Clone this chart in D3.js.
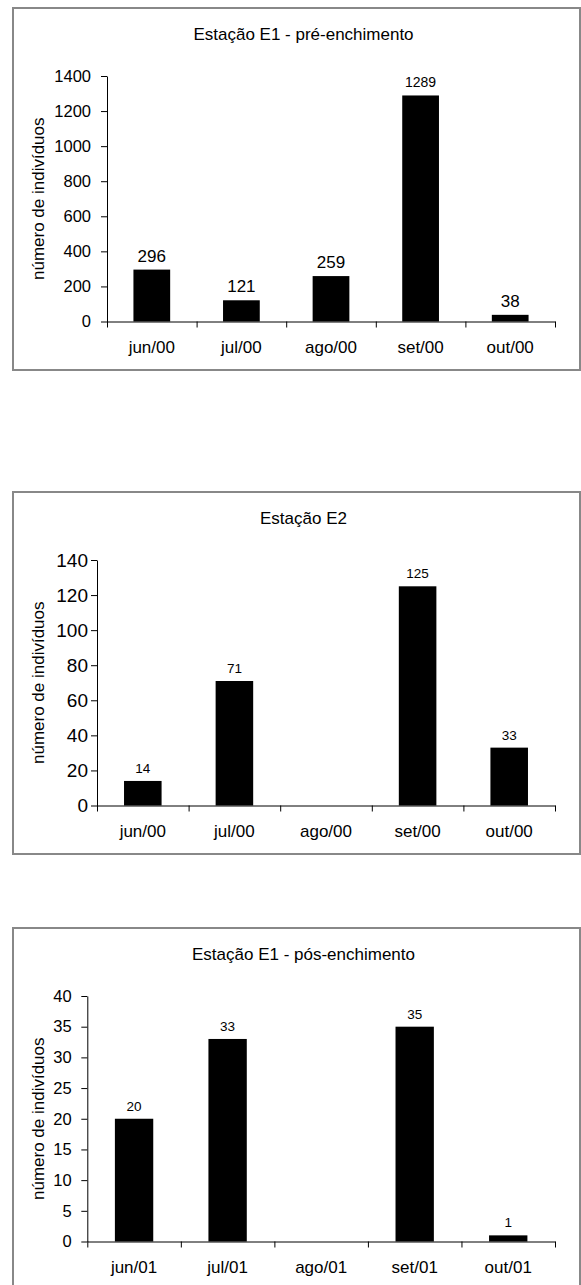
<!DOCTYPE html>
<html>
<head>
<meta charset="utf-8">
<script src="https://cdn.jsdelivr.net/npm/d3@7"></script>
<style>
  body { margin: 0; background: #fff; }
  svg { display: block; }
  text { font-family: "Liberation Sans", Arial, sans-serif; fill: #000; }
</style>
</head>
<body>
<svg width="581" height="1285"></svg>
<script>
// Data
var monthsA = ["jun/00", "jul/00", "ago/00", "set/00", "out/00"];
var monthsB = ["jun/01", "jul/01", "ago/01", "set/01", "out/01"];

var e1PreValues = [296, 121, 259, 1289, 38];
var e2Values = [14, 71, null, 125, 33];     // no sample in ago/00
var e1PosValues = [20, 33, null, 35, 1];    // no sample in ago/01

var e1PreTicks = [0, 200, 400, 600, 800, 1000, 1200, 1400];
var e2Ticks = [0, 20, 40, 60, 80, 100, 120, 140];
var e1PosTicks = [0, 5, 10, 15, 20, 25, 30, 35, 40];

var titles = ["Estação E1 - pré-enchimento", "Estação E2", "Estação E1 - pós-enchimento"];
var yTitle = "número de indivíduos";

// Layout of each panel
var panels = [
    { title: titles[0], cats: monthsA, values: e1PreValues, ticks: e1PreTicks,
      top: 8, axisX: 107, tickFont: 16.5, tickPad: 10,
      labelSize: function(v) { return v >= 1000 ? 14 : 17; } },
    { title: titles[1], cats: monthsA, values: e2Values, ticks: e2Ticks,
      top: 492, axisX: 97, tickFont: 19, tickPad: 3,
      labelSize: function() { return 13.5; } },
    { title: titles[2], cats: monthsB, values: e1PosValues, ticks: e1PosTicks,
      top: 928, axisX: 87.3, tickFont: 16.5, tickPad: 9.6,
      labelSize: function() { return 13.5; } }
];

var svg = d3.select("svg");
var frameLeft = 13, frameRight = 580, frameHeight = 362;
var plotRight = 555;

panels.forEach(drawPanel);

function drawPanel(p) {
    var g = svg.append("g");
    var yTop = p.top + 68, yBottom = p.top + 313.5;

    // grey outer frame
    g.append("rect")
     .attr("x", frameLeft).attr("y", p.top)
     .attr("width", frameRight - frameLeft).attr("height", frameHeight)
     .attr("fill", "none").attr("stroke", "#888").attr("stroke-width", 2);

    g.append("text")
     .attr("x", 303.5).attr("y", p.top + 32)
     .attr("text-anchor", "middle")
     .style("font-size", "17px")
     .text(p.title);

    var x = d3.scaleBand()
              .domain(p.cats)
              .range([p.axisX, plotRight])
              .paddingInner(0.59)
              .paddingOuter(0.295);

    var y = d3.scaleLinear()
              .domain([0, d3.max(p.ticks)])
              .range([yBottom, yTop]);

    var bars = p.cats.map(function(c, i) { return { cat: c, v: p.values[i] }; })
                     .filter(function(d) { return d.v != null; });

    // bars
    g.selectAll("rect.bar")
     .data(bars)
     .enter()
     .append("rect")
     .attr("class", "bar")
     .attr("x", function(d) { return x(d.cat); })
     .attr("y", function(d) { return y(d.v); })
     .attr("width", x.bandwidth())
     .attr("height", function(d) { return y(0) - y(d.v); })
     .attr("fill", "#000");

    // value labels
    g.selectAll("text.val")
     .data(bars)
     .enter()
     .append("text")
     .attr("class", "val")
     .attr("x", function(d) { return x(d.cat) + x.bandwidth() / 2; })
     .attr("y", function(d) { return y(d.v) - 8; })
     .attr("text-anchor", "middle")
     .style("font-size", function(d) { return p.labelSize(d.v) + "px"; })
     .text(function(d) { return d.v; });

    // y axis
    var yAxis = g.append("g")
                 .attr("transform", "translate(" + p.axisX + ",0)")
                 .call(d3.axisLeft(y).tickValues(p.ticks).tickSize(6)
                         .tickSizeOuter(0).tickPadding(p.tickPad)
                         .tickFormat(d3.format("d")));
    yAxis.selectAll("text").style("font-size", p.tickFont + "px");

    // x axis: ticks at category boundaries
    var xEdge = d3.scaleLinear().domain([0, p.cats.length]).range([p.axisX, plotRight]);
    g.append("g")
     .attr("transform", "translate(0," + yBottom + ")")
     .call(d3.axisBottom(xEdge).tickValues(d3.range(p.cats.length + 1))
             .tickSize(6).tickSizeOuter(0).tickFormat(""));

    g.selectAll("text.cat")
     .data(p.cats)
     .enter()
     .append("text")
     .attr("class", "cat")
     .attr("x", function(d) { return x(d) + x.bandwidth() / 2; })
     .attr("y", yBottom + 31)
     .attr("text-anchor", "middle")
     .style("font-size", "17px")
     .text(function(d) { return d; });

    g.append("text")
     .attr("transform", "translate(38," + ((yTop + yBottom) / 2) + ") rotate(-90)")
     .attr("text-anchor", "middle")
     .attr("dy", "0.35em")
     .style("font-size", "17px")
     .text(yTitle);
}
</script>
</body>
</html>
